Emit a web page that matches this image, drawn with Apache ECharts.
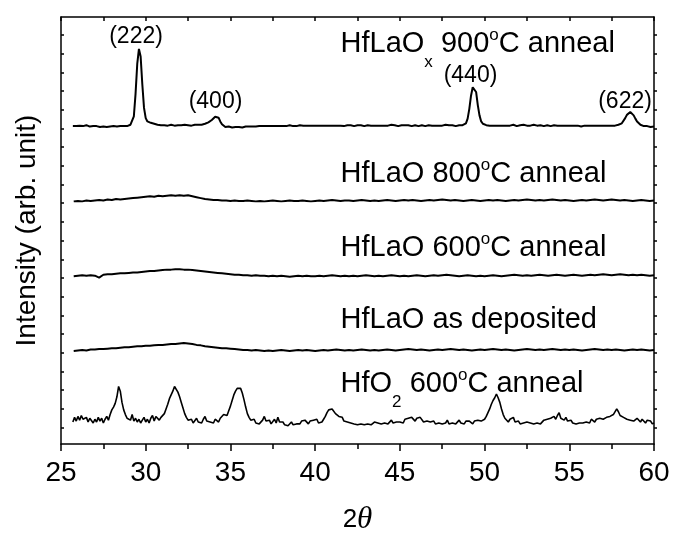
<!DOCTYPE html>
<html><head><meta charset="utf-8">
<script src="https://cdn.jsdelivr.net/npm/echarts@6/dist/echarts.min.js"></script>
<style>html,body{margin:0;padding:0;background:#fff}#c{width:673px;height:542px}</style>
</head><body><div id="c"></div>
<script>
// ---------- data ----------
// fine grid (0.1 deg) starting at 25.7 deg; coarse grid (0.25 deg) starting at 25.75 deg
const fineStart = 25.7, fineStep = 0.1;
const coarseStart = 25.75, coarseStep = 0.25;

// HfLaOx 900C anneal (fine grid)
const hf900 = [
 0.5,1.5,0.5,
 -0.5,1,2,0.5,-0.5,1.5,2,0,-1,0.5,
 1.5,0.5,-1,-0.5,0.5,0,-1,-0.5,0.5,0,
 -0.5,0.5,1,0,-0.5,0.5,0,0.5,1,0.5,
 1,2,4,11,35,67,83,75,45,20,
 9,5.5,4.5,4,3.5,3,2.5,2,1.5,1.5,
 1,1.5,2,1,1.5,2,1.5,1,2,1.5,
 2,1.5,1,2,2.5,1.5,2,1,1.5,2,
 1.5,2,2.5,2,2.5,3,3.5,4.5,5.5,7,
 9,10.5,11.5,9.5,5.5,2.5,0.5,-0.5,-1,0,
 -0.5,-1,0,-0.5,-1,-0.5,0,-1,-0.5,0,
 0.5,0,-0.5,0,0.5,0,1,0.5,0,0.5,
 0,0.5,1,0.5,0,0.5,1,0.5,1,0.5,
 0,0.5,1,0.5,1,1.5,1,0.5,1,0.5,
 1,1.5,0.5,1,1.5,1,0.5,1,1.5,1,
 0.5,1,1.5,1,0.5,1,1.5,1,0.5,1,
 1.5,1,0.5,1,1.5,1,1,0.5,1,1.5,
 1,1.5,1,0.5,1,1.5,1,1.5,1,0.5,
 1,1.5,2,1,1.5,1,0.5,1,1.5,1,
 1.5,1,0.5,1,1.5,2,1,1.5,1,0.5,
 1,1.5,1,1.5,2,1.5,1,0.5,1,1.5,
 1,0.5,1,1.5,1,0.5,1,1.5,2,1,
 1.5,1,0.5,1,1.5,1,1.5,2,1,1.5,
 1,1.5,1,0.5,1,1.5,1,1.5,2,3.5,
 8.5,19,33,42,44,37,23,12,5.5,3,
 2,1.5,1.5,1,1.5,1,0.5,1,1.5,1,
 0.5,1,1.5,1,0.5,1,1.5,2,1,0.5,
 1,1.5,1,2,1.5,1,0.5,1,1.5,2,
 1.5,1,2,1.5,1,0.5,1,1.5,1,0.5,
 1,1.5,2,1,0.5,1,1.5,1,0.5,1,
 1.5,1,0.5,1,1.5,1,0.5,0,0.5,1,
 0.5,1,1.5,1,0.5,1,1.5,1,0.5,1,
 1.5,1,0.5,1,1.5,1,1.5,1,1.5,2,
 2.5,3.5,5.5,9,12.5,14.5,15.5,14.5,12,8.5,
 5.5,3.5,2,1,0.5,0,0.5,0,-0.5,0,
 0
];

// HfLaO 800C anneal (coarse grid)
const hf800 = [
 0,
 0.5,0,1,0.5, 1,1.5,1,2, 1.5,2.5,2,2.5, 3,3.5,4,4.5, 5,5.5,5,6,
 5.5,6,6.5,6, 6.5,6,6.5,5.5, 4.5,3.5,2.5,2, 1.5,1.5,1,1, 0.5,1,0.5,0.5,
 1,0.5,0,0.5, 0,0.5,1,0.5, 0,0.5,1,0.5, 0.5,1,0.5,0, 0.5,1,0.5,1,
 1.5,1,0.5,1, 1,0.5,1,1.5, 1,0.5,1,0.5, 1,1.5,1,0.5, 1,1.5,1,1.5,
 1,0.5,1,1.5, 1,1.5,2,1.5, 1,1.5,1,0.5, 1,1.5,1,0.5, 1,1.5,1,1.5,
 1,0.5,1,1.5, 1,1.5,2,1.5, 1,1.5,1,1.5, 2,1.5,1,1.5, 1,0.5,1,1.5,
 1,1.5,2,1.5, 1,1.5,2,1.5, 1,1.5,1,0.5, 1,1.5,1,0.5,
 1
];

// HfLaO 600C anneal (coarse grid)
const hf600 = [
 0,
 0.5,1,0.5,1, 0.5,-1.5,1.5,2, 2,2.5,3,3, 3.5,4,4,4.5, 5,5.5,5.5,6,
 6.5,7,7,7.5, 7.5,7,7,6.5, 6,5.5,5,4.5, 4,3.5,3,2.5, 2,1.5,1.5,1,
 1,0.5,1,0.5, 0.5,0,0.5,0, 0.5,0,-0.5,0, 0.5,0,0.5,0, 0,0.5,0,0.5,
 1,0.5,0,0.5, 0,0.5,0,0.5, 1,0.5,0,0.5, 0,0.5,1,0.5, 0,0.5,0,0.5,
 1,0.5,0,0.5, 1,0.5,1,1.5, 1,0.5,0,0.5, 1,0.5,0,0.5, 0,0.5,1,0.5,
 0,0.5,1,1.5, 1,0.5,1,0.5, 1,1.5,1,0.5, 1,1.5,1,0.5, 1,1.5,1,0.5,
 1,1.5,1,1.5, 2,1.5,1,1.5, 2,1.5,1,1.5, 1,1.5,1,0.5,
 1
];

// HfLaO as deposited (coarse grid)
const hfDep = [
 0,
 0.5,1,0.5,1.5, 1.5,2,2,2.5, 3,3,3.5,4, 4,4.5,5,5, 5.5,5.5,6,6.5,
 6.5,7,7.5,7.5, 8,8.5,8,7.5, 6.5,6,5,4.5, 4,3.5,3,3, 2.5,2,1.5,1,
 1,0.5,1,0.5, 0,0.5,0,0.5, 1,0.5,0,0.5, 1,0.5,1,0.5, 0,0.5,1,0.5,
 1,1.5,1,0.5, 1,0.5,1,1.5, 1,0.5,1,0.5, 1,1.5,1,0.5, 1,1.5,2,1.5,
 1,1.5,1,0.5, 1,1.5,1,1.5, 2,1.5,1,1.5, 1,0.5,1,1.5, 1,1.5,2,1.5,
 1,1.5,1,0.5, 1,1.5,2,1.5, 1,1.5,1,1.5, 2,1.5,1,1.5, 1,1.5,1,0.5,
 1,1.5,2,1.5, 1,1.5,1,1.5, 1,0.5,1,1.5, 1,1.5,1,0.5,
 1
];

// HfO2 600C anneal (fine grid)
const hfO2 = [
 3,8,4,
 9,5,10,6,4,8,3,7,5,2,
 6,3,8,4,7,2,6,9,5,11,
 16,19,23,30,41,36,24,16,11,7,
 9,5,11,4,7,3,6,2,5,8,
 3,6,2,7,10,4,9,11,5,8,
 9,12,17,22,28,32,36,41,39,35,
 30,24,18,12,8,5,3,6,2,4,
 7,3,5,2,6,9,4,6,3,5,
 2,6,4,3,7,6,11,13,10,15,
 20,26,32,36,39,37,39,34,27,19,
 12,8,5,3,6,2,4,1,3,5,
 9,4,2,5,1,3,6,2,8,3,
 1,3,0,2,-1,1,3,0,2,1,
 3,1,4,2,5,3,1,4,2,5,
 3,6,2,4,3,6,9,13,16,18,
 17,15,12,13,9,7,8,4,6,3,
 5,2,4,1,3,0,2,1,3,0,
 2,1,3,0,2,3,1,2,4,1,
 3,2,4,1,3,5,2,4,3,1,
 3,5,2,6,4,7,5,8,6,4,
 7,5,8,6,3,5,4,6,3,2,
 4,1,3,2,4,1,3,2,5,1,
 3,2,4,1,3,5,2,3,1,4,
 2,4,3,1,4,2,5,3,4,6,
 6,9,13,17,22,26,29,33,29,24,
 17,11,7,5,3,6,4,8,3,2,
 4,1,3,2,0,3,1,2,4,1,
 3,2,4,1,2,5,3,6,4,7,
 5,9,6,10,13,7,9,5,8,4,
 3,5,2,4,1,3,2,0,2,4,
 3,5,2,6,4,3,6,4,7,5,
 6,4,8,6,9,7,11,13,17,14,
 10,12,8,9,6,8,5,7,4,6,
 7,5,3,6,4,2,5,3,4,1,
 2
];

// vertical offsets of the stacked traces (top to bottom)
const offsets = [322, 242, 162, 82, 3];

// texts
const curveLabels = ['HfLaO{sub|x} 900{sup|o}C anneal','HfLaO 800{sup|o}C anneal','HfLaO 600{sup|o}C anneal','HfLaO as deposited','HfO{sub|2} 600{sup|o}C anneal'];
const curveLabelAnchorX = 41.5;
const curveLabelAnchorY = [410.5, 271, 192.4, 115.5, 47.2];
const peakLabels = ['(222)','(400)','(440)','(622)'];
const peakLabelX = [29.43, 34.12, 49.17, 58.29];
const peakLabelY = [418, 348.6, 376.6, 348.6];
const xTickLabels = [25,30,35,40,45,50,55,60];
const yTickValues = [0,20,40,60,80,100,120,140,160,180,200,220,240,260,280,300,320,340,360,380,400,420];
const yMin = -17.5, yMax = 439.2;

// ---------- chart ----------
const F = '"Liberation Sans", Arial, Helvetica, sans-serif';
function pairs(x0, step, vals, off){
  return vals.map((v,i)=>[+(x0 + i*step).toFixed(2), v + off]);
}
const traces = [
  pairs(fineStart, fineStep, hf900, offsets[0]),
  pairs(coarseStart, coarseStep, hf800, offsets[1]),
  pairs(coarseStart, coarseStep, hf600, offsets[2]),
  pairs(coarseStart, coarseStep, hfDep, offsets[3]),
  pairs(fineStart, fineStep, hfO2, offsets[4])
];
const lineSeries = traces.map((d,k)=>({
  type:'line', data:d, showSymbol:false, symbol:'none', silent:true,
  lineStyle:{color:'#000', width: k===4 ? 1.6 : 2}, z:3
}));

const axisLineStyle = {color:'#000', width:1.5};
const chart = echarts.init(document.getElementById('c'), null, {renderer:'canvas'});
chart.setOption({
  animation:false,
  backgroundColor:'#fff',
  grid:{left:61, right:19, top:17, bottom:90},
  xAxis:[
    {type:'value', min:25, max:60, interval:5, position:'bottom',
     axisLine:{show:true, onZero:false, lineStyle:axisLineStyle},
     axisTick:{show:true, inside:false, length:7, lineStyle:axisLineStyle},
     minorTick:{show:true, splitNumber:2, length:5, lineStyle:axisLineStyle},
     splitLine:{show:false}, minorSplitLine:{show:false},
     axisLabel:{color:'#000', fontSize:28, fontFamily:F, margin:15,
       formatter:v=> xTickLabels.indexOf(v)>=0 ? String(v) : ''},
     name:'2{i|θ}', nameLocation:'middle', nameGap:59,
     nameTextStyle:{color:'#000', fontSize:26, fontFamily:F, lineHeight:34,
       rich:{i:{fontFamily:'"Liberation Serif", "DejaVu Serif", serif', fontStyle:'italic', fontSize:31, lineHeight:34, color:'#000'}}}
    },
    {type:'value', min:25, max:60, interval:2.5, position:'top',
     axisLine:{show:true, onZero:false, lineStyle:axisLineStyle},
     axisTick:{show:true, inside:true, length:4, lineStyle:axisLineStyle},
     axisLabel:{show:false}, splitLine:{show:false}}
  ],
  yAxis:[
    {type:'value', min:yMin, max:yMax, position:'left',
     axisLine:{show:true, onZero:false, lineStyle:axisLineStyle},
     axisTick:{show:true, inside:true, length:3, customValues:yTickValues, lineStyle:axisLineStyle},
     axisLabel:{show:false}, splitLine:{show:false},
     name:'Intensity (arb. unit)', nameLocation:'middle', nameGap:19,
     nameTextStyle:{color:'#000', fontSize:28, fontFamily:F, lineHeight:30}
    },
    {type:'value', min:yMin, max:yMax, position:'right',
     axisLine:{show:true, onZero:false, lineStyle:axisLineStyle},
     axisTick:{show:true, inside:false, length:3, customValues:yTickValues, lineStyle:axisLineStyle},
     axisLabel:{show:false}, splitLine:{show:false}}
  ],
  series: lineSeries.concat([
    {type:'scatter', silent:true, symbolSize:0, itemStyle:{color:'#000'}, z:5,
     data: curveLabels.map((t,i)=>({name:t, value:[curveLabelAnchorX, curveLabelAnchorY[i]]})),
     label:{show:true, position:'right', distance:0, formatter:p=>p.name, opacity:1,
       color:'#000', fontSize:29, fontFamily:F, lineHeight:54, textBorderWidth:0,
       rich:{
         sub:{fontSize:17, verticalAlign:'bottom', fontFamily:F, color:'#000', textBorderWidth:0},
         sup:{fontSize:17, verticalAlign:'top', padding:[10,0,0,0], fontFamily:F, color:'#000', textBorderWidth:0}
       }}
    },
    {type:'scatter', silent:true, symbolSize:0, itemStyle:{color:'#000'}, z:5,
     data: peakLabels.map((t,i)=>({name:t, value:[peakLabelX[i], peakLabelY[i]]})),
     label:{show:true, position:'inside', formatter:p=>p.name, textBorderWidth:0, opacity:1,
       color:'#000', fontSize:23, fontFamily:F}
    }
  ])
});
</script></body></html>
